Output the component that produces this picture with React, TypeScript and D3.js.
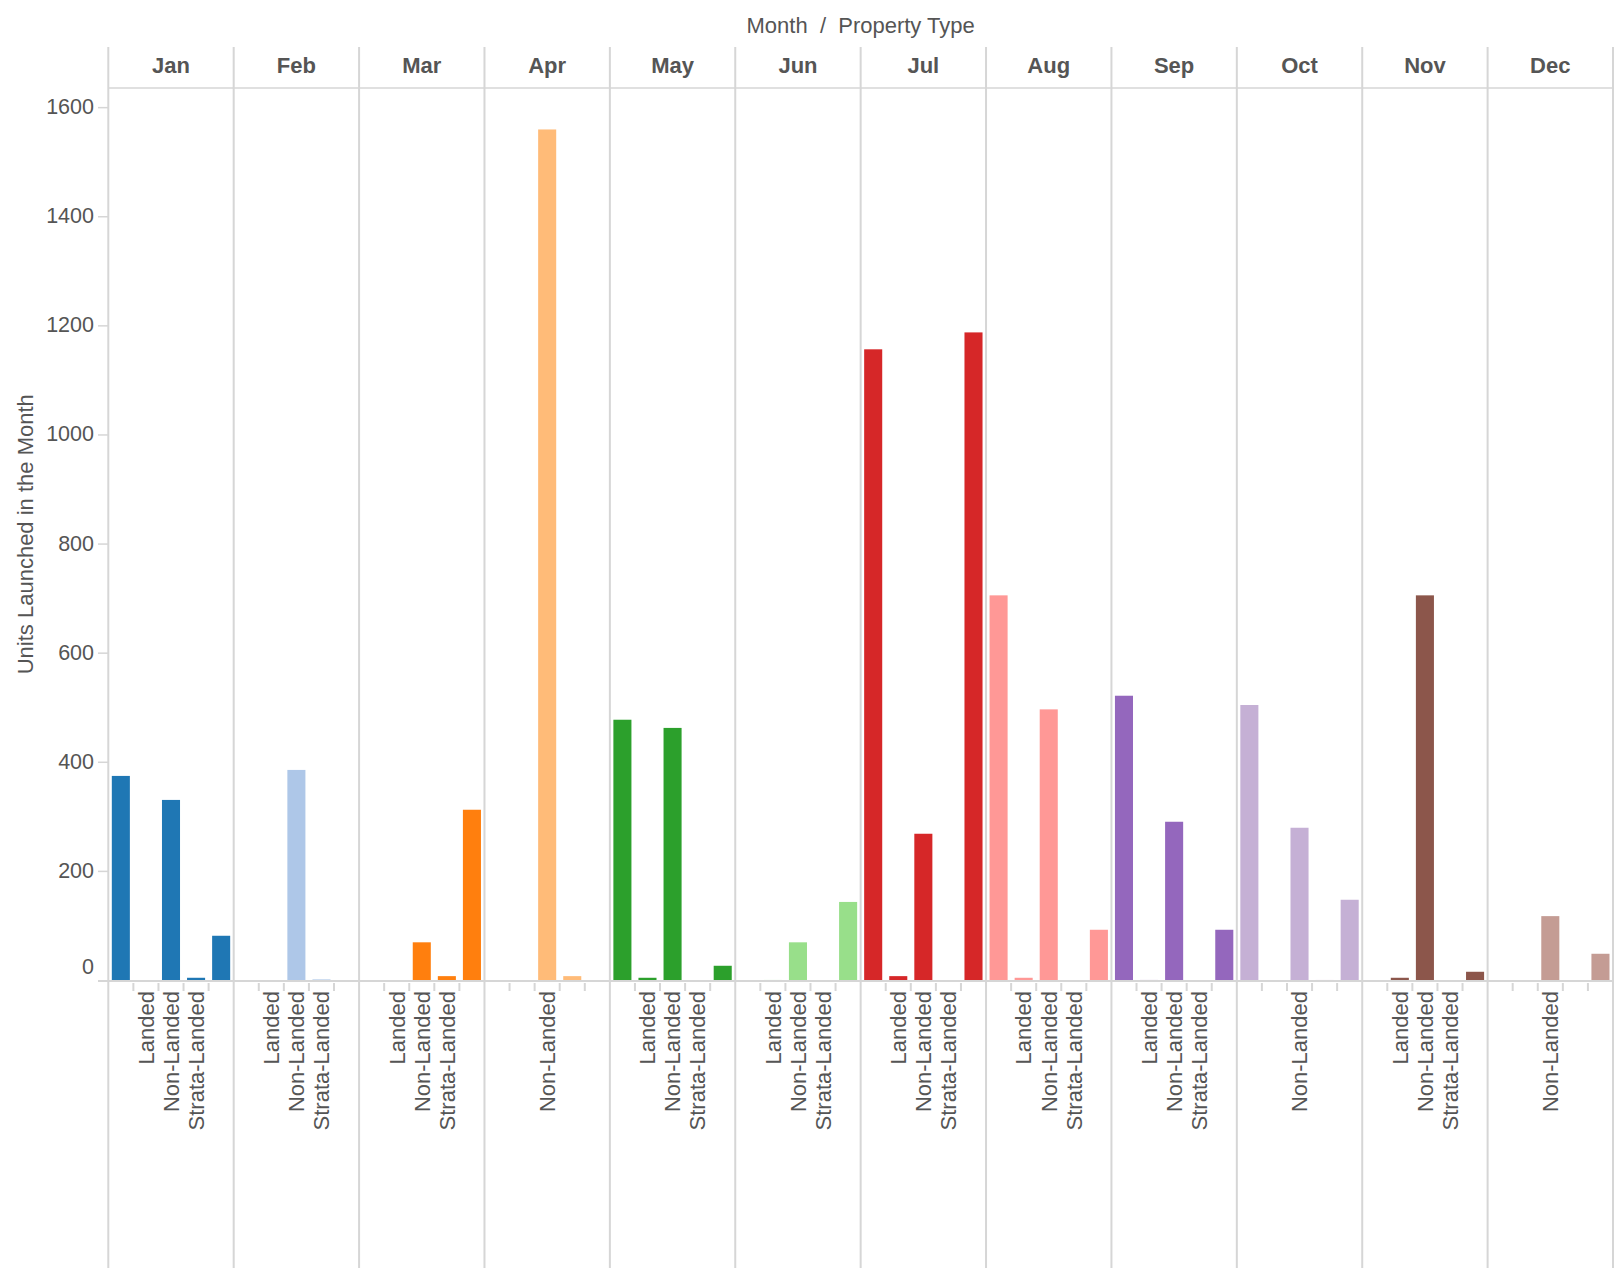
import React from "react";
import * as d3 from "d3";

const months = ["Jan", "Feb", "Mar", "Apr", "May", "Jun", "Jul", "Aug", "Sep", "Oct", "Nov", "Dec"];
const monthColors = ["#1f77b4", "#aec7e8", "#ff7f0e", "#ffbb78", "#2ca02c", "#98df8a", "#d62728", "#ff9896", "#9467bd", "#c5b0d5", "#8c564b", "#c49c94"];

// five positions per month pane
const slotLabels = ["", "Landed", "Non-Landed", "Strata-Landed", ""];
// months where only the "Non-Landed" label is shown
const nonLandedOnlyMonths = ["Apr", "Oct", "Dec"];

const slot0 = [375, null, null, null, 478, null, 1157, 706, 522, 505, null, null];
const slot1 = [null, null, null, null, 5, 1, 8, 5, 1, null, 5, null];
const slot2 = [331, 386, 70, 1560, 463, 70, 269, 497, 291, 280, 706, 118];
const slot3 = [5, 2, 8, 8, null, null, null, null, null, 1, null, null];
const slot4 = [82, null, 313, null, 27, 144, 1188, 93, 93, 148, 16, 49];

const yTicks = [0, 200, 400, 600, 800, 1000, 1200, 1400, 1600];

const W = 1622;
const H = 1278;
const FONT = "'Liberation Sans', Arial, Helvetica, sans-serif";
const TEXT = "#555555";
const GRID = "#d6d6d6";

export default function App() {
  const left = 108.3;
  const right = 1613;
  const headerTop = 47;
  const plotTop = 88;
  const baseY = 980.5;
  const bottom = 1268;

  const x = d3.scaleBand<string>().domain(months).range([left, right]).padding(0);
  const slots = [0, 1, 2, 3, 4];
  const xs = d3
    .scaleBand<number>()
    .domain(slots)
    .range([0, x.bandwidth()])
    .paddingInner(0.28)
    .paddingOuter(0.14);
  const step = x.bandwidth() / 5;
  const y = d3.scaleLinear().domain([0, 1636]).range([baseY, plotTop]);

  const series = [slot0, slot1, slot2, slot3, slot4];

  const bars: any[] = [];
  months.forEach((m, mi) => {
    series.forEach((s, si) => {
      const v = s[mi];
      if (v === null || v === undefined) return;
      const bx = (x(m) as number) + (xs(si) as number);
      const top = y(v);
      bars.push(
        <rect
          key={`b-${m}-${si}`}
          x={bx}
          y={top}
          width={xs.bandwidth()}
          height={Math.max(baseY - top, 0)}
          fill={monthColors[mi]}
        />
      );
    });
  });

  return (
    <svg
      width={W}
      height={H}
      style={{ position: "absolute", left: 0, top: 0, background: "#fff" }}
      fontFamily={FONT}
    >
      {/* Title */}
      <text
        x={(left + right) / 2}
        y={25}
        textAnchor="middle"
        dominantBaseline="central"
        fontSize={22}
        fill={TEXT}
        style={{ whiteSpace: "pre" }}
      >
        {"Month  /  Property Type"}
      </text>

      {/* header bottom line */}
      <line x1={left} x2={right} y1={plotTop} y2={plotTop} stroke={GRID} strokeWidth={1.5} />

      {/* pane dividers */}
      {months.map((m) => (
        <line
          key={`v-${m}`}
          x1={x(m)}
          x2={x(m)}
          y1={headerTop}
          y2={bottom}
          stroke={GRID}
          strokeWidth={2}
        />
      ))}
      <line x1={right} x2={right} y1={headerTop} y2={bottom} stroke={GRID} strokeWidth={2} />

      {/* month headers */}
      {months.map((m) => (
        <text
          key={`h-${m}`}
          x={(x(m) as number) + x.bandwidth() / 2}
          y={65.5}
          textAnchor="middle"
          dominantBaseline="central"
          fontSize={22}
          fontWeight="bold"
          fill={TEXT}
        >
          {m}
        </text>
      ))}

      {/* bars */}
      {bars}

      {/* baseline */}
      <line x1={98} x2={right} y1={baseY + 0.5} y2={baseY + 0.5} stroke={GRID} strokeWidth={2} />

      {/* y axis ticks */}
      {yTicks.map((t) => (
        <g key={`yt-${t}`}>
          {t !== 0 && (
            <line x1={98} x2={left} y1={y(t)} y2={y(t)} stroke={GRID} strokeWidth={1.5} />
          )}
          <text
            x={94}
            y={t === 0 ? baseY - 14 : y(t) - 0.5}
            textAnchor="end"
            dominantBaseline="central"
            fontSize={21.5}
            fill={TEXT}
          >
            {t}
          </text>
        </g>
      ))}

      {/* y axis title */}
      <text
        transform={`translate(33, ${(plotTop + baseY) / 2}) rotate(-90)`}
        textAnchor="middle"
        fontSize={22}
        fill={TEXT}
      >
        Units Launched in the Month
      </text>

      {/* x ticks and labels */}
      {months.map((m) => (
        <g key={`xt-${m}`}>
          {[1, 2, 3, 4].map((k) => {
            const tx = (x(m) as number) + k * step;
            return (
              <line key={k} x1={tx} x2={tx} y1={983} y2={991} stroke={GRID} strokeWidth={2} />
            );
          })}
          {slotLabels.map((lab, si) => {
            if (!lab) return null;
            if (nonLandedOnlyMonths.includes(m) && lab !== "Non-Landed") return null;
            const cx = (x(m) as number) + (xs(si) as number) + xs.bandwidth() / 2;
            return (
              <text
                key={`l-${si}`}
                transform={`translate(${cx + 7.8}, 991) rotate(-90)`}
                textAnchor="end"
                fontSize={22}
                fill={TEXT}
              >
                {lab}
              </text>
            );
          })}
        </g>
      ))}
    </svg>
  );
}
